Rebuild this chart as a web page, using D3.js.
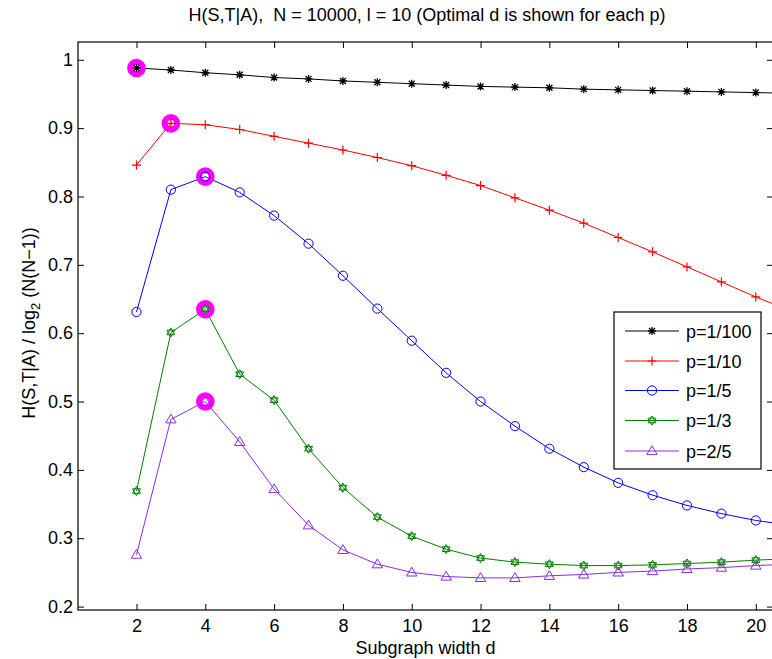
<!DOCTYPE html>
<html>
<head>
<meta charset="utf-8">
<script src="https://cdn.jsdelivr.net/npm/d3@7"></script>
<style>
  html, body { margin: 0; padding: 0; background: #fff; }
  svg { display: block; }
  text { font-family: "Liberation Sans", Arial, Helvetica, sans-serif; }
</style>
</head>
<body>
<svg id="chart" width="772" height="659"></svg>
<script>
// ---------- data ----------
const dValues = [2,3,4,5,6,7,8,9,10,11,12,13,14,15,16,17,18,19,20,21];
const seriesNames = ["p=1/100", "p=1/10", "p=1/5", "p=1/3", "p=2/5"];
const p100 = [0.988,0.985,0.981,0.978,0.974,0.972,0.969,0.967,0.965,0.963,0.961,0.960,0.959,0.957,0.956,0.955,0.954,0.953,0.952,0.951];
const p10  = [0.846,0.907,0.905,0.898,0.888,0.878,0.868,0.857,0.845,0.831,0.816,0.798,0.780,0.761,0.740,0.719,0.697,0.675,0.653,0.633];
const p5   = [0.631,0.810,0.829,0.806,0.772,0.731,0.684,0.636,0.589,0.542,0.500,0.464,0.431,0.404,0.381,0.363,0.348,0.336,0.326,0.319];
const p3   = [0.369,0.601,0.635,0.540,0.502,0.431,0.374,0.331,0.303,0.284,0.271,0.265,0.262,0.260,0.260,0.261,0.263,0.265,0.268,0.270];
const p25  = [0.276,0.474,0.500,0.441,0.372,0.319,0.283,0.262,0.250,0.244,0.242,0.242,0.245,0.247,0.250,0.252,0.255,0.257,0.260,0.262];
const optimalD = [2, 3, 4, 4, 4];
const xTicks = [2,4,6,8,10,12,14,16,18,20];
const yTicks = [0.2,0.3,0.4,0.5,0.6,0.7,0.8,0.9,1];
const titleText = "H(S,T|A),  N = 10000, l = 10 (Optimal d is shown for each p)";
const xLabelText = "Subgraph width d";

const allSeries = [p100, p10, p5, p3, p25];
const colors = ["#000000", "#ff0000", "#0000ff", "#008000", "#8a2be2"];
const markerTypes = ["asterisk", "plus", "circle", "hexagram", "triangle"];

// ---------- layout ----------
const svg = d3.select("#chart");
const L = 78, R = 773, T = 42, B = 610;
const x = d3.scaleLinear().domain([0.3, 20.5]).range([L, R]);
const y = d3.scaleLinear().domain([0.195, 1.026]).range([B, T]);

svg.append("defs").append("clipPath").attr("id", "clip")
  .append("rect").attr("x", L).attr("y", T).attr("width", R - L).attr("height", B - T);

// axes
const fs = 18;
const axB = svg.append("g").attr("transform", `translate(0,${B})`)
  .call(d3.axisBottom(x).tickValues(xTicks).tickSizeInner(-6).tickSizeOuter(0).tickPadding(9).tickFormat(d3.format("d")));
const axT = svg.append("g").attr("transform", `translate(0,${T})`)
  .call(d3.axisTop(x).tickValues(xTicks).tickSizeInner(-6).tickSizeOuter(0).tickFormat(""));
const axL = svg.append("g").attr("transform", `translate(${L},0)`)
  .call(d3.axisLeft(y).tickValues(yTicks).tickSizeInner(-6).tickSizeOuter(0).tickPadding(5).tickFormat(d => d === 1 ? "1" : d3.format(".1f")(d)));
const axR = svg.append("g").attr("transform", `translate(${R},0)`)
  .call(d3.axisRight(y).tickValues(yTicks).tickSizeInner(-6).tickSizeOuter(0).tickFormat(""));
[axB, axT, axL, axR].forEach(g => {
  g.selectAll(".domain").remove();
  g.selectAll("line").attr("stroke", "#000").attr("stroke-width", 1);
  g.selectAll("text").attr("font-size", fs).attr("fill", "#000")
    .style("font-family", '"Liberation Sans", Arial, sans-serif');
});
svg.append("rect").attr("x", L).attr("y", T).attr("width", R - L).attr("height", B - T)
  .attr("fill", "none").attr("stroke", "#000").attr("stroke-width", 1.2);

// marker drawing
function drawMarker(g, type, cx, cy, color) {
  const s = g.append("g").attr("transform", `translate(${cx},${cy})`)
    .attr("stroke", color).attr("fill", "none").attr("stroke-width", 1);
  if (type === "asterisk") {
    const a = 4, b = 3;
    s.append("path").attr("d", `M${-a},0H${a}M0,${-a}V${a}M${-b},${-b}L${b},${b}M${-b},${b}L${b},${-b}`).attr("stroke-width", 1.3);
  } else if (type === "plus") {
    s.append("path").attr("d", "M-4.5,0H4.5M0,-4.5V4.5").attr("stroke-width", 1.2);
  } else if (type === "circle") {
    s.append("circle").attr("r", 4.6);
  } else if (type === "hexagram") {
    const r = 4.6;
    const tri = k => d3.range(3).map(i => {
      const a = (-90 + k * 180 + i * 120) * Math.PI / 180;
      return [r * Math.cos(a), r * Math.sin(a)];
    });
    s.append("path").attr("d", "M" + tri(0).join("L") + "Z");
    s.append("path").attr("d", "M" + tri(1).join("L") + "Z");
  } else if (type === "triangle") {
    s.append("path").attr("d", "M0,-5.2L5.2,3.6L-5.2,3.6Z");
  }
}

const plot = svg.append("g").attr("clip-path", "url(#clip)");
const line = d3.line().x((d, i) => x(dValues[i])).y(d => y(d));

allSeries.forEach((vals, k) => {
  plot.append("path").datum(vals).attr("d", line)
    .attr("fill", "none").attr("stroke", colors[k]).attr("stroke-width", 1);
});
// optimal highlight rings
allSeries.forEach((vals, k) => {
  const i = dValues.indexOf(optimalD[k]);
  plot.append("circle").attr("cx", x(dValues[i])).attr("cy", y(vals[i])).attr("r", 6.3)
    .attr("fill", "none").attr("stroke", "#ff00ff").attr("stroke-width", 6);
});
allSeries.forEach((vals, k) => {
  vals.forEach((v, i) => drawMarker(plot, markerTypes[k], x(dValues[i]), y(v), colors[k]));
});

// legend
const lg = svg.append("g");
lg.append("rect").attr("x", 614).attr("y", 312).attr("width", 147).attr("height", 157)
  .attr("fill", "#fff").attr("stroke", "#000").attr("stroke-width", 1.2);
const legY = [331, 361, 390.5, 420.5, 451];
seriesNames.forEach((name, k) => {
  lg.append("line").attr("x1", 625).attr("x2", 679).attr("y1", legY[k]).attr("y2", legY[k])
    .attr("stroke", colors[k]).attr("stroke-width", 1);
  drawMarker(lg, markerTypes[k], 652, legY[k], colors[k]);
  lg.append("text").attr("x", 686).attr("y", legY[k] + 6.5).attr("font-size", fs).text(name);
});

// title & labels
svg.append("text").attr("x", 427).attr("y", 21).attr("text-anchor", "middle")
  .attr("font-size", 18).style("white-space", "pre").text(titleText);
svg.append("text").attr("x", 425.5).attr("y", 654).attr("text-anchor", "middle")
  .attr("font-size", 18).text(xLabelText);
const yl = svg.append("text").attr("transform", `translate(35,323) rotate(-90)`)
  .attr("text-anchor", "middle").attr("font-size", 18);
yl.append("tspan").text("H(S,T|A) / log");
yl.append("tspan").attr("font-size", 13).attr("dy", 5).text("2");
yl.append("tspan").attr("dy", -5).text(" (N(N\u22121))");
</script>
</body>
</html>
